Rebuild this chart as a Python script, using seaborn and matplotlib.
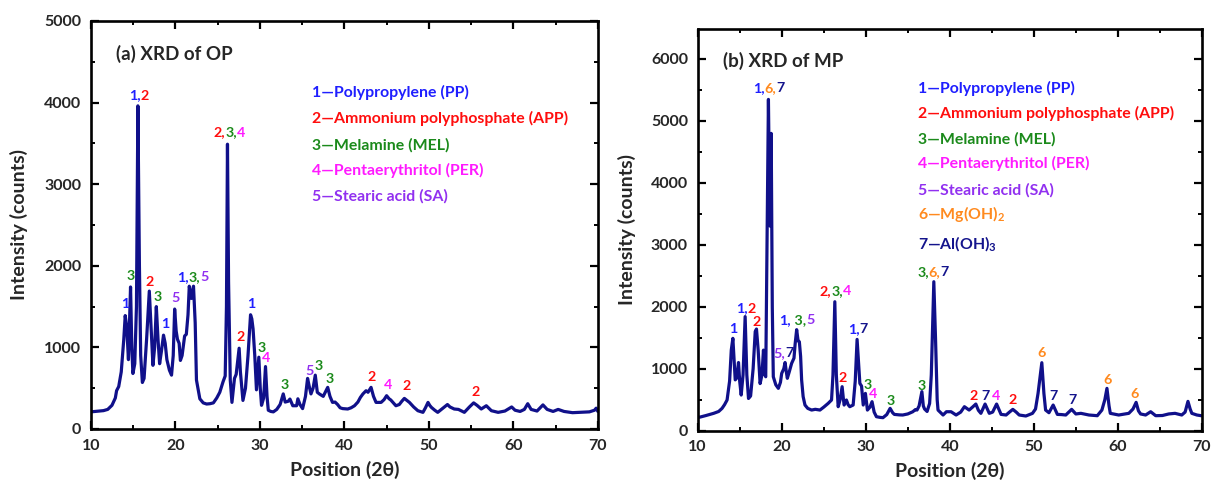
import matplotlib
matplotlib.use("Agg")
import matplotlib.pyplot as plt
from matplotlib.ticker import MultipleLocator
import seaborn as sns
import pandas as pd

# ---------------- data ----------------
op_theta = [10.0, 10.5, 11.0, 11.5, 12.0, 12.5, 12.9, 13.05, 13.3, 13.6, 13.9, 14.07, 14.25, 14.45,
            14.7, 14.85, 14.98, 15.2, 15.4, 15.57, 15.75, 15.9, 16.1, 16.3, 16.6, 16.92, 17.1, 17.35,
            17.55, 17.75, 17.95, 18.14, 18.35, 18.6, 18.8, 19.0, 19.3, 19.55, 19.75, 19.92, 20.1,
            20.25, 20.45, 20.6, 20.8, 21.1, 21.3, 21.5, 21.65, 21.9, 22.15, 22.35, 22.5, 22.9, 23.3,
            23.7, 24.1, 24.5, 24.9, 25.26, 25.65, 25.9, 26.05, 26.17, 26.3, 26.5, 26.7, 27.0, 27.2,
            27.4, 27.55, 27.7, 28.0, 28.3, 28.6, 28.9, 29.05, 29.2, 29.4, 29.6, 29.88, 30.05, 30.2,
            30.45, 30.67, 30.85, 31.0, 31.3, 31.6, 32.0, 32.4, 32.77, 33.0, 33.36, 33.56, 33.9, 34.35,
            34.5, 34.75, 35.06, 35.4, 35.65, 35.85, 36.05, 36.3, 36.56, 36.8, 37.04, 37.5, 38.03,
            38.3, 38.6, 38.9, 39.2, 39.5, 39.8, 40.4, 40.8, 41.2, 41.6, 41.9, 42.2, 42.57, 42.8,
            43.16, 43.45, 43.75, 44.35, 44.7, 45.0, 45.3, 45.5, 46.1, 46.5, 46.8, 47.1, 47.4, 47.7,
            48.2, 48.7, 49.3, 49.6, 49.9, 50.1, 50.3, 50.7, 51.05, 51.6, 52.2, 52.5, 53.0, 53.5,
            54.2, 54.8, 55.3, 55.7, 56.2, 56.8, 57.4, 58.2, 59.0, 59.8, 60.2, 60.8, 61.3, 61.7,
            62.1, 62.8, 63.5, 64.0, 64.7, 65.3, 66.0, 67.0, 68.0, 69.0, 69.6, 69.8, 70.0]
op_counts = [210, 215, 220, 225, 240, 290, 380, 470, 520, 700, 1100, 1390, 1250, 850,
             1740, 1000, 680, 800, 1500, 3960, 2000, 900, 570, 620, 1100, 1690, 1300, 780,
             1000, 1500, 1100, 800, 950, 1150, 1050, 850, 720, 660, 900, 1470, 1200,
             1100, 1050, 840, 900, 1140, 1160, 1400, 1750, 1600, 1750, 1300, 600, 370, 320,
             306, 310, 320, 380, 450, 580, 650, 1500, 3490, 1800, 600, 326, 620, 670,
             850, 990, 700, 350, 500, 900, 1400, 1350, 1225, 900, 480, 880, 500, 290,
             380, 765, 400, 230, 215, 210, 240, 300, 430, 330, 340, 367, 285, 285,
             370, 300, 250, 400, 620, 520, 430, 500, 660, 450, 430, 400, 510,
             400, 326, 330, 300, 260, 250, 245, 260, 285, 330, 387, 430, 469, 450,
             510, 400, 326, 326, 360, 408, 370, 355, 285, 300, 340, 375, 350, 326,
             270, 224, 204, 260, 326, 290, 265, 230, 204, 250, 300, 270, 245, 240,
             204, 270, 320, 290, 245, 285, 224, 204, 220, 270, 230, 215, 240, 310,
             240, 220, 295, 240, 215, 240, 215, 200, 205, 210, 230, 255, 215]

mp_theta = [10.0, 10.3, 11.0, 11.9, 12.5, 12.9, 13.2, 13.5, 13.8, 14.0, 14.19, 14.35, 14.47, 14.65,
            14.86, 15.0, 15.18, 15.4, 15.65, 15.85, 16.05, 16.3, 16.6, 16.85, 17.0, 17.2, 17.43,
            17.65, 17.83, 18.0, 18.1, 18.25, 18.42, 18.55, 18.62, 18.75, 18.88, 19.0, 19.3, 19.6,
            19.85, 20.0, 20.25, 20.4, 20.55, 20.67, 20.9, 21.18, 21.46, 21.6, 21.78, 21.95, 22.1,
            22.25, 22.37, 22.55, 22.77, 23.1, 23.56, 24.0, 24.55, 25.0, 25.53, 25.93, 26.1, 26.32,
            26.5, 26.72, 26.95, 27.19, 27.35, 27.43, 27.7, 27.9, 28.1, 28.5, 28.75, 28.97, 29.15,
            29.3, 29.5, 29.7, 29.96, 30.2, 30.5, 30.75, 31.0, 31.27, 31.7, 32.05, 32.5, 32.9, 33.2,
            33.4, 34.0, 34.4, 35.0, 35.6, 35.9, 36.1, 36.35, 36.68, 36.85, 37.0, 37.3, 37.6, 37.8,
            38.1, 38.3, 38.5, 38.6, 39.2, 39.6, 40.15, 40.75, 41.3, 41.74, 42.3, 42.7, 43.1, 43.4,
            43.7, 44.2, 44.7, 45.1, 45.57, 46.1, 46.7, 47.1, 47.5, 47.9, 48.26, 49.05, 49.84, 50.2,
            50.5, 50.95, 51.2, 51.4, 51.8, 52.3, 52.8, 53.3, 53.8, 54.5, 55.0, 55.6, 56.56, 57.55,
            58.1, 58.45, 58.7, 58.95, 59.1, 60.1, 61.3, 61.8, 62.17, 62.45, 62.7, 63.3, 63.9, 64.5,
            65.3, 66.05, 66.8, 67.6, 68.0, 68.34, 68.6, 68.8, 69.4, 70.0]
mp_counts = [215, 220, 245, 280, 310, 360, 420, 495, 800, 1300, 1490, 1100, 820, 850,
             1100, 800, 575, 900, 1840, 900, 520, 560, 1000, 1600, 1640, 1300, 760,
             900, 1300, 900, 870, 3000, 5344, 3800, 3300, 4796, 2000, 870, 740, 683,
             780, 925, 1000, 1100, 950, 845, 950, 1086, 1170, 1400, 1630, 1450, 1435,
             1200, 820, 550, 414, 360, 333, 345, 333, 380, 441, 495, 900, 2080,
             900, 387, 500, 710, 500, 414, 495, 420, 387, 414, 800, 1473, 1100,
             763, 720, 414, 602, 333, 380, 468, 300, 226, 215, 210, 260, 360, 290,
             263, 255, 253, 270, 306, 340, 333, 400, 630, 400, 350, 310, 440, 900,
             2403, 1500, 500, 333, 253, 306, 306, 253, 300, 387, 333, 380, 430, 330,
             280, 430, 280, 300, 430, 263, 253, 300, 344, 300, 253, 237, 280, 350,
             600, 1097, 600, 333, 290, 414, 263, 260, 253, 344, 270, 280, 253, 242,
             333, 500, 683, 400, 280, 253, 280, 350, 457, 320, 270, 253, 306, 242,
             245, 270, 280, 253, 300, 473, 350, 280, 253, 240]

# phase legend
op_legend = ["1\u2014Polypropylene (PP)", "2\u2014Ammonium polyphosphate (APP)",
             "3\u2014Melamine (MEL)", "4\u2014Pentaerythritol (PER)", "5\u2014Stearic acid (SA)"]
mp_legend = op_legend + ["6\u2014Mg(OH)$_2$", "7\u2014Al(OH)$_3$"]

# peak annotations: (2theta, counts, phase ids)
op_peaks = [(14.05, 1535, "1"), (14.7, 1870, "3"), (15.7, 4086, "1,2"), (17.0, 1800, "2"),
            (17.9, 1616, "3"), (18.8, 1290, "1"), (20.06, 1604, "5"), (22.1, 1861, "1,3,5"),
            (26.4, 3633, "2,3,4"), (29.0, 1531, "1"), (27.75, 1127, "2"), (30.16, 992, "3"),
            (30.75, 869, "4"), (32.94, 543, "3"), (35.85, 706, "5"), (36.95, 767, "3"),
            (38.27, 612, "3"), (43.2, 637, "2"), (45.14, 535, "4"), (47.37, 531, "2"),
            (55.5, 453, "2")]
mp_peaks = [(14.19, 1635, "1"), (15.76, 1970, "1,2"), (17.0, 1754, "2"), (18.43, 5531, "1,6,7"),
            (20.23, 1257, "5,7"), (21.8, 1792, "1, 3,5"), (26.4, 2256, "2,3,4"), (27.28, 853, "2"),
            (29.08, 1646, "1,7"), (30.18, 745, "3"), (30.92, 594, "4"), (33.0, 486, "3"),
            (36.6, 718, "3"), (38.0, 2563, "3,6,7"), (42.86, 567, "2"), (44.2, 567, "7"),
            (45.53, 567, "4"), (47.42, 496, "2"), (50.97, 1257, "6"), (52.3, 567, "7"),
            (54.65, 496, "7"), (58.76, 820, "6"), (61.98, 594, "6")]

phase_colors = {"1": "#1f1fff", "2": "#ff0d0d", "3": "#1b8a1b", "4": "#ff1aff",
                "5": "#9130f0", "6": "#ff8a1f", "7": "#14148c"}
line_color = "#10108a"

# ---------------- style ----------------
sns.set_theme(style="ticks")
plt.rcParams["font.family"] = ["Lato", "DejaVu Sans"]
plt.rcParams["font.weight"] = "bold"
plt.rcParams["mathtext.fontset"] = "custom"
plt.rcParams["mathtext.rm"] = "Lato:bold"
plt.rcParams["mathtext.it"] = "Lato:bold"
plt.rcParams["mathtext.bf"] = "Lato:bold"
plt.rcParams["mathtext.default"] = "rm"

fig = plt.figure(figsize=(12.11, 4.86), dpi=100)
ax1 = fig.add_axes([0.0750, 0.1173, 0.4187, 0.8395])
ax2 = fig.add_axes([0.5761, 0.1138, 0.4164, 0.8265])

df_op = pd.DataFrame({"theta": op_theta, "counts": op_counts})
df_mp = pd.DataFrame({"theta": mp_theta, "counts": mp_counts})

LAB_FS = 10.3


def peak_label(ax, x, y, label):
    pieces = []
    tokens = label.split(",")
    for i, tok in enumerate(tokens):
        txt = tok + ("," if i < len(tokens) - 1 else "")
        pieces.append((txt, phase_colors[tok.strip()]))
    full = "".join(p for p, _ in pieces)
    base = ax.text(x, y, full, ha="center", va="center", fontsize=LAB_FS,
                   fontweight="bold", alpha=0)
    prev = base
    for i, (p, c) in enumerate(pieces):
        prev = ax.annotate(p, xy=(0, 0) if i == 0 else (1, 0), xycoords=prev,
                           ha="left", va="bottom", color=c, fontsize=LAB_FS,
                           fontweight="bold")


def style_axes(ax, ymax, ymajor, title, legend, leg_y):
    ax.set_xlim(10, 70)
    ax.set_ylim(0, ymax)
    ax.xaxis.set_major_locator(MultipleLocator(10))
    ax.xaxis.set_minor_locator(MultipleLocator(5))
    ax.yaxis.set_major_locator(MultipleLocator(ymajor))
    ax.yaxis.set_minor_locator(MultipleLocator(ymajor / 2))
    ax.tick_params(which="both", direction="in", top=True, right=True,
                   labelsize=11.5, pad=7)
    ax.tick_params(which="major", length=6, width=1.6, color="black")
    ax.tick_params(which="minor", length=3.2, width=1.4, color="black")
    for lab in ax.get_xticklabels() + ax.get_yticklabels():
        lab.set_fontweight("bold")
    for s in ax.spines.values():
        s.set_linewidth(1.9)
        s.set_color("black")
    ax.set_xlabel("Position (2\u03b8)", fontsize=14, fontweight="bold")
    ax.set_ylabel("Intensity (counts)", fontsize=14, fontweight="bold")
    ax.xaxis.label.set_va("center")
    ax.yaxis.label.set_va("center")
    ax.xaxis.set_label_coords(0.5, -0.10)
    ax.yaxis.set_label_coords(-0.141, 0.5)
    ax.text(0.05, 0.905, title, transform=ax.transAxes, fontsize=13.5,
            fontweight="bold", va="baseline", ha="left")
    for i, t in enumerate(legend):
        ax.text(0.437, leg_y[i], t, transform=ax.transAxes, fontsize=11.4,
                fontweight="bold", va="baseline", ha="left",
                color=phase_colors[str(i + 1)])


sns.lineplot(data=df_op, x="theta", y="counts", ax=ax1, color=line_color,
             linewidth=2.3, estimator=None, sort=False)
sns.lineplot(data=df_mp, x="theta", y="counts", ax=ax2, color=line_color,
             linewidth=2.3, estimator=None, sort=False)

style_axes(ax1, 5000, 1000, "(a) XRD of OP", op_legend,
           [0.813, 0.750, 0.686, 0.623, 0.559])
style_axes(ax2, 6480, 1000, "(b) XRD of MP", mp_legend,
           [0.840, 0.778, 0.715, 0.653, 0.589, 0.526, 0.4525])

for x, y, l in op_peaks:
    peak_label(ax1, x, y, l)
for x, y, l in mp_peaks:
    peak_label(ax2, x, y, l)

fig.savefig("out.png", dpi=100)
